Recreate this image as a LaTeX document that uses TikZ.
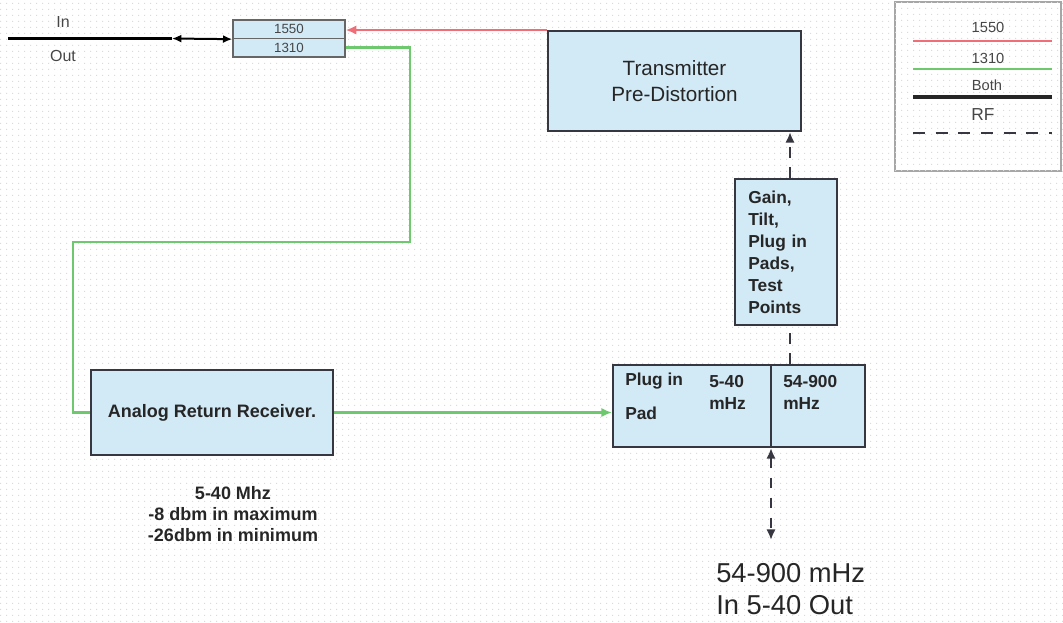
\documentclass[tikz,border=0pt]{standalone}
\usepackage{fontspec}
\setmainfont{Liberation Sans}
\usetikzlibrary{arrows.meta,patterns.meta}
\definecolor{boxfill}{RGB}{210,233,246}
\definecolor{boxline}{RGB}{55,55,65}
\definecolor{redl}{RGB}{240,110,120}
\definecolor{greenl}{RGB}{110,200,110}
\definecolor{txtgray}{RGB}{70,70,70}
\tikzdeclarepattern{name=bgdots, type=uncolored,
  bounding box={(0pt,0pt) and (4.5pt,4.5pt)}, tile size={(4.5pt,4.5pt)},
  code={\fill (1pt,1pt) rectangle (1.8pt,1.8pt);}}
\tikzset{
 blk/.style={draw=boxline, line width=1.5pt, fill=boxfill, inner sep=0pt},
 muxbox/.style={draw=gray!80!black, line width=1pt, fill=boxfill, minimum width=84pt, minimum height=13.875pt, inner sep=0pt, font=\fontsize{10}{12}\selectfont, text=txtgray},
 fibA/.style={draw=redl, line width=1.5pt},
 fibB/.style={draw=greenl, line width=2pt},
 bothline/.style={draw=black, line width=2.2pt},
 rfline/.style={draw=boxline, line width=2pt, dash pattern=on 8pt off 7pt},
 tipA/.tip={Latex[length=8pt,width=7pt]},
 lbl/.style={inner sep=0pt, text=txtgray},
 bld/.style={inner sep=0pt, font=\bfseries\fontsize{13}{16.5}\selectfont, align=left, text=black!85}
}
\begin{document}
\begin{tikzpicture}[x=0.75pt,y=-0.75pt]
\useasboundingbox (0,0) rectangle (1063,622);
\fill[pattern=bgdots, pattern color=gray!28] (0,0) rectangle (1063,622);
% mux
\node[muxbox] (m1) at (289,29.25) {1550};
\node[muxbox] (m2) at (289,47.75) {1310};
% blocks
\node[blk, minimum width=189.75pt, minimum height=75pt, align=center, font=\fontsize{15.5}{20}\selectfont, text=black!85] (tx) at (674.5,81) {Transmitter\\Pre-Distortion};
\node[blk, minimum height=109.5pt, text width=56.5pt, inner xsep=10pt, align=left, font=\bfseries\fontsize{13}{16.5}\selectfont, text=black!85] (gain) at (786,252) {Gain,\\Tilt,\\Plug in\\Pads,\\Test\\Points};
\node[blk, minimum width=189pt, minimum height=61.5pt] (plug) at (739,406) {};
\node[blk, minimum width=181.5pt, minimum height=63.75pt, font=\bfseries\fontsize{13.5}{16}\selectfont, text=black!85] (an) at (212,412.5) {Analog Return Receiver.};
% plug labels
\node[bld, anchor=west] (pl1) at (625,381) {Plug in};
\node[bld, anchor=west] (pl2) at (625,413) {Pad};
\node[bld, anchor=west] (pl3) at (709,392) {5-40\\mHz};
\node[bld, anchor=west] (pl4) at (783,392) {54-900\\mHz};
% texts
\node[lbl, font=\fontsize{12}{14}\selectfont] (inlbl) at (63,22) {In};
\node[lbl, font=\fontsize{12}{14}\selectfont] (outlbl) at (63,56) {Out};
\node[inner sep=0pt, align=center, font=\bfseries\fontsize{13.5}{15.75}\selectfont, text=black!85] (spec) at (233,514) {5-40 Mhz\\-8 dbm in maximum\\-26dbm in minimum};
\node[inner sep=0pt, anchor=west, align=left, font=\fontsize{20.5}{24}\selectfont, text=black!85] (big) at (716,589) {54-900 mHz\\In 5-40 Out};
% coordinates
\coordinate (inL) at (8,38.5);
\coordinate (inM) at (172,38.5);
\coordinate (g1) at (410,242);
\coordinate (g2) at (73,242);
\coordinate (vx) at (790,0);
\coordinate (dx) at (771,0);
\coordinate (rfend) at (771,540);
% connectors
\draw[bothline] (inL) -- (inM);
\draw[draw=black, line width=1.5pt, {Latex[length=7pt,width=6pt]}-{Latex[length=7pt,width=6pt]}] (inM) -- (m1.south west);
\draw[fibA, -tipA] (tx.north west) -- (tx.north west -| m1.east);
\draw[fibB] (m2.east) -| (g1) -- (g2) |- (an.west);
\draw[fibB, -tipA] (an.east) -- (an.east -| plug.west);
\draw[rfline, -tipA] (vx |- gain.north) -- (vx |- tx.south);
\draw[rfline] (vx |- plug.north) -- (vx |- gain.south);
\draw[boxline, line width=1.2pt] (dx |- plug.north) -- (dx |- plug.south);
\draw[rfline, tipA-tipA] (dx |- plug.south) -- (rfend);
% legend
\draw[draw=gray!70, line width=1.5pt, fill=white] (895,2) rectangle (1061,171);
\fill[pattern=bgdots, pattern color=gray!28] (895,2) rectangle (1061,171);
\node[lbl, font=\fontsize{11}{13}\selectfont] (lg1) at (988,27) {1550};
\node[lbl, font=\fontsize{11}{13}\selectfont] (lg2) at (988,58) {1310};
\node[lbl, font=\fontsize{11}{13}\selectfont] (lg3) at (987,85) {Both};
\node[lbl, font=\fontsize{13}{15}\selectfont] (lg4) at (983,115) {RF};
\coordinate (l1a) at (913,41); \coordinate (l1b) at (1052,41);
\coordinate (l2a) at (913,69); \coordinate (l2b) at (1052,69);
\coordinate (l3a) at (913,97); \coordinate (l3b) at (1052,97);
\coordinate (l4a) at (913,133); \coordinate (l4b) at (1052,133);
\draw[fibA, line width=2pt] (l1a) -- (l1b);
\draw[fibB] (l2a) -- (l2b);
\draw[draw=black!85, line width=3.5pt] (l3a) -- (l3b);
\draw[draw=boxline, line width=2pt, dash pattern=on 9pt off 8pt] (l4a) -- (l4b);
\end{tikzpicture}
\end{document}
